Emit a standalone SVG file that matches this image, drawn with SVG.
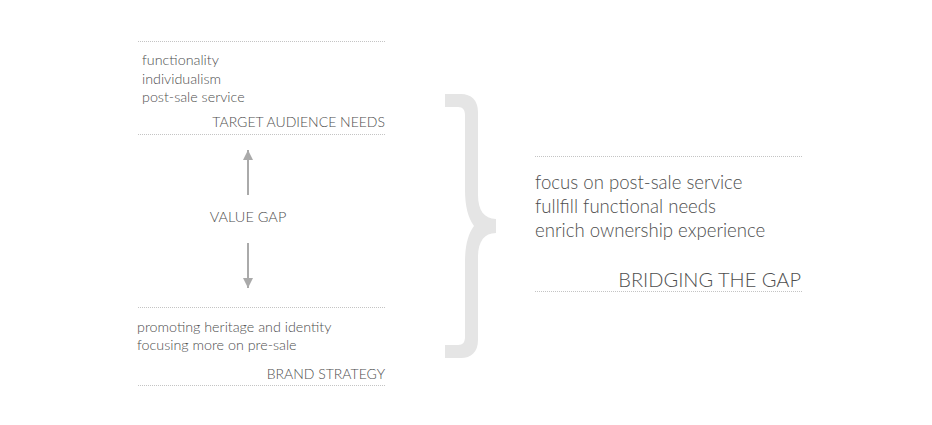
<svg xmlns="http://www.w3.org/2000/svg" width="932" height="425" viewBox="0 0 932 425">
  <defs>
    <style>
      .dot { stroke: #c4c4c4; stroke-width: 1; stroke-dasharray: 1 1; fill: none; }
      .txt { font-family: Lato, "Open Sans", "Liberation Sans", sans-serif; font-weight: 300; fill: #4e4e4e; }
      .item { font-size: 14.3px; }
      .big { font-size: 18.6px; }
      .lbl { font-family: Lato, "Open Sans", "Liberation Sans", sans-serif; font-weight: 300; fill: #4e4e4e; font-size: 14px; text-anchor: end; }
      .arrow { stroke: #aaaaaa; stroke-width: 2; fill: none; }
    </style>
    <marker id="ah" viewBox="0 0 10 10" refX="10" refY="5" markerWidth="10" markerHeight="10" markerUnits="userSpaceOnUse" orient="auto">
      <path d="M0,0 L10,5 L0,10 Z" fill="#aaaaaa"/>
    </marker>
  </defs>
  <rect width="932" height="425" fill="#ffffff"/>

  <g id="target-audience-needs">
    <line class="dot" x1="138" y1="41.5" x2="386" y2="41.5"/>
    <text class="txt item" x="142" y="65">functionality</text>
    <text class="txt item" x="142" y="83.5">individualism</text>
    <text class="txt item" x="142" y="102">post-sale service</text>
    <text class="lbl" x="385" y="127">TARGET AUDIENCE NEEDS</text>
    <line class="dot" x1="138" y1="134.5" x2="386" y2="134.5"/>
  </g>

  <g id="value-gap">
    <text x="248" y="222" style="font-family: Lato, 'Open Sans', 'Liberation Sans', sans-serif; font-weight: 300; font-size: 14.5px; fill: #4e4e4e;" text-anchor="middle">VALUE GAP</text>
  </g>

  <g id="brand-strategy">
    <line class="dot" x1="138" y1="307.5" x2="386" y2="307.5"/>
    <text class="txt item" x="137" y="332">promoting heritage and identity</text>
    <text class="txt item" x="137" y="350">focusing more on pre-sale</text>
    <text class="lbl" x="385" y="379">BRAND STRATEGY</text>
    <line class="dot" x1="138" y1="385.5" x2="386" y2="385.5"/>
  </g>

  <g id="brace">
    <path d="M445,94 L461,94 C471,94 478,100 478,112 L478,195 C478,210 484,219 496,219 L496,233 C484,233 478,242 478,257 L478,340 C478,352 471,358 461,358 L445,358 L445,345 L458,345 C463,345 465,342 465,337 L465,262 C465,246 468,234 474,226 C468,218 465,206 465,190 L465,115 C465,110 463,107 458,107 L445,107 Z" fill="#e5e5e5"/>
  </g>

  <g id="bridging-the-gap">
    <line class="dot" x1="535" y1="156.5" x2="802" y2="156.5"/>
    <text class="txt big" x="535" y="189">focus on post-sale service</text>
    <text class="txt big" x="535" y="213">fullfill functional needs</text>
    <text class="txt big" x="535" y="237">enrich ownership experience</text>
    <text class="lbl" x="801" y="287" style="font-size: 20px;">BRIDGING THE GAP</text>
    <line class="dot" x1="535" y1="291.5" x2="802" y2="291.5"/>
  </g>

  <g id="connectors">
    <line class="arrow" x1="248" y1="195" x2="248" y2="150" marker-end="url(#ah)"/>
    <line class="arrow" x1="248" y1="243" x2="248" y2="288" marker-end="url(#ah)"/>
  </g>
</svg>
